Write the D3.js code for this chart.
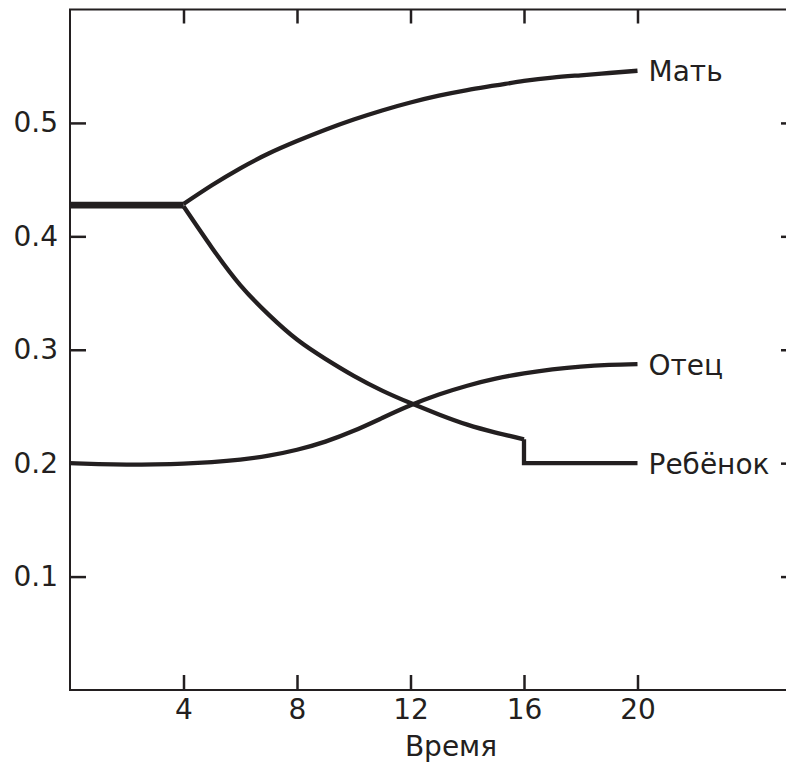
<!DOCTYPE html>
<html>
<head>
<meta charset="utf-8">
<script src="https://cdn.jsdelivr.net/npm/d3@7"></script>
<style>
  html, body { margin: 0; padding: 0; background: #fff; }
  svg { display: block; }
  text { font-family: "DejaVu Sans", Verdana, sans-serif; fill: #231f20; }
</style>
</head>
<body>
<svg id="chart" width="786" height="764"></svg>
<script>
// ---- data ----
const xTicks = [4, 8, 12, 16, 20];
const yTicks = [0.1, 0.2, 0.3, 0.4, 0.5];
const yTickLabels = ["0.1", "0.2", "0.3", "0.4", "0.5"];

const flatTime = [0, 4];
const motherFlat = [0.4285, 0.4285];
const childFlat = [0.4265, 0.4265];

const motherTime = [4, 5, 6, 7, 8, 9, 10, 11, 12, 13, 14, 15, 16, 17, 18, 19, 20];
const motherValues = [0.4285, 0.445, 0.460, 0.473, 0.484, 0.494, 0.503, 0.511, 0.518, 0.524, 0.529, 0.533, 0.537, 0.540, 0.542, 0.544, 0.546];

const childTime = [4, 5, 6, 7, 8, 9, 10, 11, 12, 13, 14, 15, 16];
const childValues = [0.4265, 0.390, 0.357, 0.331, 0.309, 0.292, 0.277, 0.264, 0.253, 0.243, 0.234, 0.227, 0.221];
const childStepTime = [16, 16, 20];
const childStepValues = [0.221, 0.200, 0.200];

const fatherTime = [0, 1, 2, 3, 4, 5, 6, 7, 8, 9, 10, 11, 12, 13, 14, 15, 16, 17, 18, 19, 20];
const fatherValues = [0.2000, 0.1992, 0.1988, 0.1990, 0.1996, 0.2009, 0.2031, 0.2066, 0.2118, 0.2190, 0.2285, 0.2398, 0.2510, 0.2605, 0.2683, 0.2745, 0.2792, 0.2827, 0.2852, 0.2866, 0.2873];

const seriesLabels = ["Мать", "Отец", "Ребёнок"];
const xTitle = "Время";

// ---- layout ----
const ink = "#231f20";
const mLeft = 70, mRight = 797, mTop = 9.5, mBottom = 690;
const fontPx = "28px";
const svg = d3.select("#chart");

const x = d3.scaleLinear().domain([0, 20]).range([mLeft, 637.5]);
const y = d3.scaleLinear().domain([0, 0.6]).range([mBottom, mTop]);

// frame
svg.append("rect")
  .attr("x", mLeft).attr("y", mTop)
  .attr("width", mRight - mLeft).attr("height", mBottom - mTop)
  .attr("fill", "none").attr("stroke", ink).attr("stroke-width", 2);

function styleAxis(g) {
  g.select(".domain").remove();
  g.selectAll(".tick line").attr("stroke", ink).attr("stroke-width", 2.5);
  g.selectAll(".tick text").attr("fill", ink).style("font-size", fontPx);
}

svg.append("g").attr("transform", `translate(0,${mBottom})`)
  .call(d3.axisBottom(x).tickValues(xTicks).tickSize(-15).tickPadding(9).tickFormat(d3.format("d")))
  .call(styleAxis);

svg.append("g").attr("transform", `translate(0,${mTop})`)
  .call(d3.axisTop(x).tickValues(xTicks).tickSize(-14).tickFormat(""))
  .call(styleAxis);

svg.append("g").attr("transform", `translate(${mLeft},0)`)
  .call(d3.axisLeft(y).tickValues(yTicks).tickSize(-16).tickPadding(12)
    .tickFormat((d, i) => yTickLabels[i]))
  .call(styleAxis);

svg.append("g").attr("transform", `translate(${mRight},0)`)
  .call(d3.axisRight(y).tickValues(yTicks).tickSize(-16).tickFormat(""))
  .call(styleAxis);

// lines
const smooth = d3.line().x(d => x(d[0])).y(d => y(d[1])).curve(d3.curveNatural);
const straight = d3.line().x(d => x(d[0])).y(d => y(d[1]));
const zip = (a, b) => a.map((v, i) => [v, b[i]]);

const paths = [
  straight(zip(flatTime, motherFlat)),
  straight(zip(flatTime, childFlat)),
  smooth(zip(motherTime, motherValues)),
  smooth(zip(childTime, childValues)),
  straight(zip(childStepTime, childStepValues)),
  smooth(zip(fatherTime, fatherValues))
];
svg.append("g").selectAll("path").data(paths).join("path")
  .attr("d", d => d)
  .attr("fill", "none").attr("stroke", ink).attr("stroke-width", 4.3)
  .attr("stroke-linejoin", "miter");

// series labels
const labelEnds = [
  motherValues[motherValues.length - 1],
  fatherValues[fatherValues.length - 1],
  childStepValues[childStepValues.length - 1]
];
svg.append("g").selectAll("text").data(seriesLabels).join("text")
  .attr("x", x(20) + 11)
  .attr("y", (d, i) => y(labelEnds[i]))
  .attr("dy", "0.37em")
  .style("font-size", fontPx)
  .text(d => d);

// axis title
svg.append("text")
  .attr("x", 451).attr("y", 756)
  .attr("text-anchor", "middle")
  .style("font-size", fontPx)
  .text(xTitle);
</script>
</body>
</html>
